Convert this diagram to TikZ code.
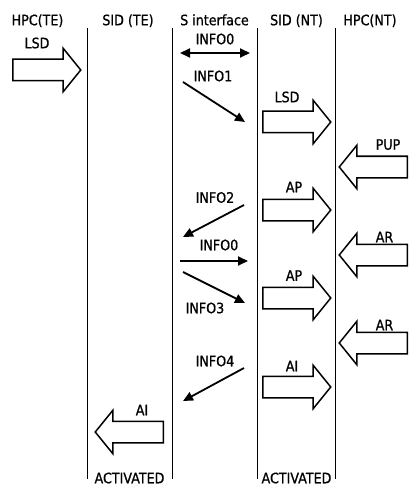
\documentclass[tikz,border=0pt]{standalone}
\usepackage{fontspec}
\setmainfont[FakeStretch=0.88,FakeBold=0.8]{DejaVu Sans}
\usepackage{tikz}
\usetikzlibrary{arrows.meta}
\usetikzlibrary{shapes.arrows}
\usetikzlibrary{positioning}

\tikzset{
  lane/.style={line width=0.8pt},
  txt/.style={inner sep=0pt, font=\fontsize{14.4}{17}\selectfont, text height=10.5pt, text depth=0pt},
  blk/.style={single arrow, draw, line width=1.5pt, minimum height=68pt, text height=20pt, text depth=0pt,
    single arrow head extend=11pt, single arrow tip angle=102, inner sep=0pt},
  blkright/.style={blk, anchor=tail},
  blkleft/.style={blk, shape border rotate=180, anchor=tail},
  msg/.style={line width=1.8pt, -{Triangle[length=10pt,width=9pt]}},
}

\begin{document}
\begin{tikzpicture}[x=1pt,y=-1pt]
\path[fill=white] (0,0) rectangle (410,489);
\useasboundingbox (0,0) rectangle (410,489);
\foreach \x in {87,172,257,335} {\draw[lane] (\x,28) -- (\x,479);}
\node[txt] (HPCTE) at (37.5,20) {HPC(TE)};
\node[txt] (SIDTE) at (128,20) {SID (TE)};
\node[txt] (SIF) at (214.5,20) {S interface};
\node[txt] (SIDNT) at (296.5,20) {SID (NT)};
\node[txt] (HPCNT) at (370,20) {HPC(NT)};
\node[blkright] (LSD1) at (12,70) {};
\node[txt] (LSD1t) at (37,43) {LSD};
\node[blkright] (LSD2) at (262,122) {};
\node[txt] (LSD2t) at (287,97) {LSD};
\node[blkleft] (PUP) at (408,167) {};
\node[txt] (PUPt) at (388,144.5) {PUP};
\node[blkright] (AP1) at (262,210) {};
\node[txt] (AP1t) at (294,187) {AP};
\node[blkleft] (AR1) at (408,255) {};
\node[txt] (AR1t) at (384.5,237) {AR};
\node[blkright] (AP2) at (262,298) {};
\node[txt] (AP2t) at (294,275.5) {AP};
\node[blkleft] (AR2) at (408,343) {};
\node[txt] (AR2t) at (384.5,325) {AR};
\node[blkright] (AI1) at (262,387) {};
\node[txt] (AI1t) at (292,366) {AI};
\node[blkleft] (AI2) at (164,432) {};
\node[txt] (AI2t) at (142,410) {AI};
\node[txt] (ACT1) at (129.5,478) {ACTIVATED};
\node[txt] (ACT2) at (296.5,478) {ACTIVATED};
% S interface signals
\coordinate (I0a) at (180,53);
\coordinate (I0b) at (250,53);
\coordinate (I1a) at (183,82);
\coordinate (I1b) at (245,122);
\coordinate (I2a) at (244,205);
\coordinate (I2b) at (183,237);
\coordinate (I5a) at (180,261);
\coordinate (I5b) at (248,261);
\coordinate (I3a) at (183,272);
\coordinate (I3b) at (245,303);
\coordinate (I4a) at (244,368);
\coordinate (I4b) at (183,401);
\draw[msg, {Triangle[length=10pt,width=9pt]}-{Triangle[length=10pt,width=9pt]}] (I0a) -- (I0b);
\draw[msg] (I1a) -- (I1b);
\draw[msg] (I2a) -- (I2b);
\draw[msg] (I5a) -- (I5b);
\draw[msg] (I3a) -- (I3b);
\draw[msg] (I4a) -- (I4b);
\node[txt] (INFO0) at (215,39) {INFO0};
\node[txt] (INFO1) at (213,76) {INFO1};
\node[txt] (INFO2) at (215,197.5) {INFO2};
\node[txt] (INFO0b) at (219,245) {INFO0};
\node[txt] (INFO3) at (205,308) {INFO3};
\node[txt] (INFO4) at (215,361) {INFO4};
\end{tikzpicture}
\end{document}
